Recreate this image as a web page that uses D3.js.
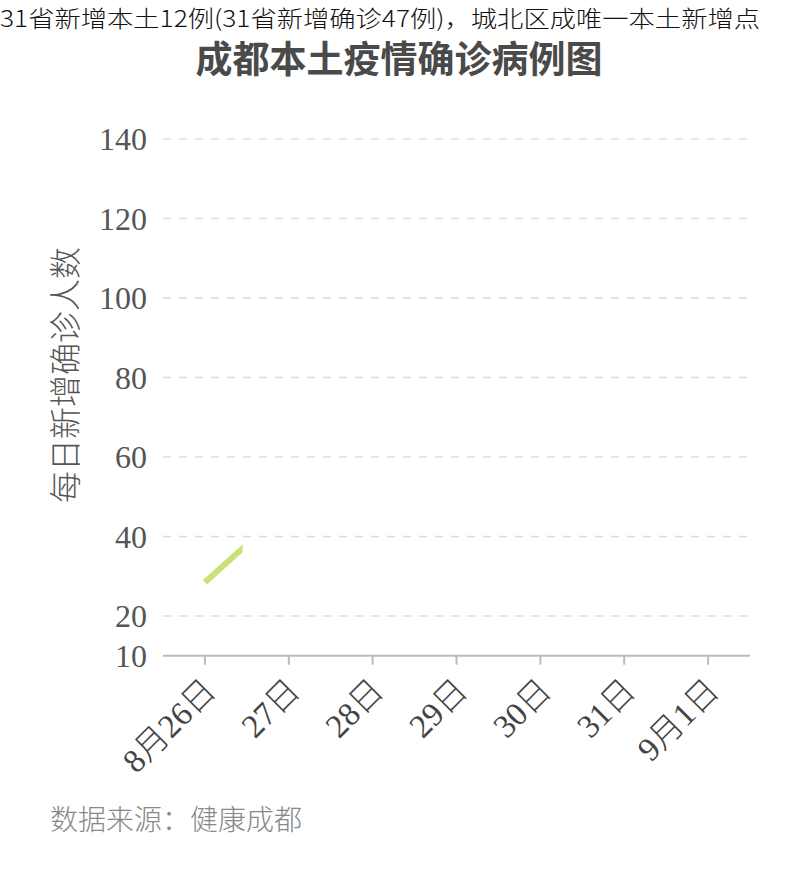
<!DOCTYPE html>
<html><head><meta charset="utf-8">
<script src="https://cdn.jsdelivr.net/npm/d3@7"></script>
<style>body{margin:0;background:#fff}svg{display:block}</style>
</head><body>
<script>
const categories = ["8月26日","27日","28日","29日","30日","31日","9月1日"];
const values = [28.5, 47.5, 134.5, 141.5, 138.5, 107, 103.5];
const yTicks = [10, 20, 40, 60, 80, 100, 120, 140];
const headline = "31省新增本土12例(31省新增确诊47例)，城北区成唯一本土新增点";
const title = "成都本土疫情确诊病例图";
const yLabel = "每日新增确诊人数";
const source = "数据来源：健康成都";
const revealProgress = 0.075; // animation frame captured

const W = 800, H = 885;
const svg = d3.select("body").append("svg").attr("width", W).attr("height", H);
const x = d3.scaleBand().domain(categories).range([163, 750]);
const y = d3.scaleLinear().domain([10, 140]).range([655.75, 139]);
const cx = d => x(d) + x.bandwidth() / 2;

svg.append("text").attr("x", 0).attr("y", 27)
  .attr("font-family", "'Noto Sans CJK SC', sans-serif").attr("font-weight", 300)
  .attr("font-size", 23).attr("fill", "#111")
  .attr("textLength", 760).attr("lengthAdjust", "spacingAndGlyphs").text(headline);

svg.append("text").attr("x", 399).attr("y", 73).attr("text-anchor", "middle")
  .attr("font-family", "'Noto Sans CJK SC', sans-serif").attr("font-weight", 700)
  .attr("font-size", 37).attr("fill", "#4a4a4a").text(title);

// grid
svg.append("g").selectAll("line").data(yTicks.filter(t => t !== 10)).join("line")
  .attr("x1", 163).attr("x2", 750).attr("y1", d => y(d)).attr("y2", d => y(d))
  .attr("stroke", "#dcdcdc").attr("stroke-width", 1.5).attr("stroke-dasharray", "8,8");

// y axis labels
const yAxis = d3.axisLeft(y).tickValues(yTicks).tickSize(0).tickPadding(0);
const yg = svg.append("g").attr("transform", "translate(147,0)").call(yAxis);
yg.attr("font-family", null).attr("font-size", null);
yg.select(".domain").remove();
yg.selectAll("text").style("font-family", "'Liberation Serif', serif").attr("font-size", 32)
  .attr("fill", "#555").attr("dy", "0.34em");

// x axis
const xAxis = d3.axisBottom(x).tickSize(9).tickPadding(0);
const xg = svg.append("g").attr("transform", `translate(0,${y(10)})`).call(xAxis);
xg.attr("font-family", null).attr("font-size", null);
xg.select(".domain").attr("stroke", "#bbb").attr("stroke-width", 2).attr("d", "M163,0H750");
xg.selectAll(".tick line").attr("stroke", "#bbb").attr("stroke-width", 2);
xg.selectAll(".tick text")
  .attr("font-size", 33).attr("fill", "#444")
  .attr("text-anchor", "end").attr("y", 0).attr("dy", 0)
  .attr("transform", "translate(13,37) rotate(-45)")
  .each(function(d) {
    const t = d3.select(this).text("");
    (d.match(/\d+|\D+/g) || []).forEach(part => {
      const isNum = /\d/.test(part);
      t.append("tspan").text(part)
        .style("font-family", isNum ? "'Liberation Serif', serif" : "'Noto Sans CJK SC', sans-serif")
        .attr("font-weight", isNum ? null : 300);
    });
  });

// y label
svg.append("text").attr("transform", "translate(77,375) rotate(-90)").attr("text-anchor", "middle")
  .attr("font-family", "'Noto Sans CJK SC', sans-serif").attr("font-weight", 300)
  .attr("font-size", 32).attr("fill", "#555").text(yLabel);

// line with reveal clip
const x0 = cx(categories[0]), x1 = cx(categories[categories.length - 1]);
svg.append("clipPath").attr("id", "reveal").append("rect")
  .attr("x", 0).attr("y", 0).attr("width", x0 + (x1 - x0) * revealProgress).attr("height", H);
const line = d3.line().x((d, i) => cx(categories[i])).y(d => y(d));
svg.append("path").datum(values).attr("d", line).attr("fill", "none")
  .attr("stroke", "#c8e27a").attr("stroke-width", 6).attr("clip-path", "url(#reveal)");

svg.append("text").attr("x", 50).attr("y", 830)
  .attr("font-family", "'Noto Sans CJK SC', sans-serif").attr("font-weight", 300)
  .attr("font-size", 28).attr("fill", "#888").text(source);
</script>
</body></html>
